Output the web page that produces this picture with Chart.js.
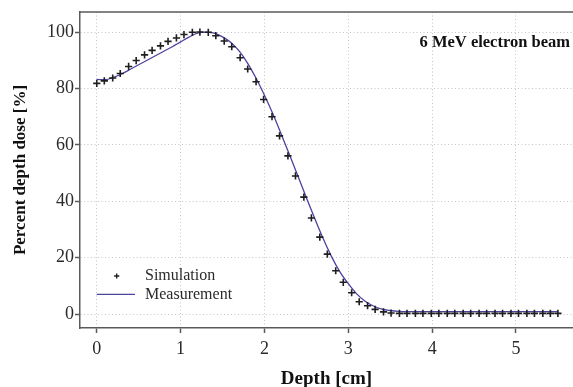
<!DOCTYPE html>
<html><head><meta charset="utf-8">
<script src="https://cdn.jsdelivr.net/npm/chart.js@4"></script>
<style>html,body{margin:0;padding:0;background:#fff;overflow:hidden}canvas{display:block}</style>
</head><body>
<canvas id="c" width="573" height="387" style="width:573px;height:387px"></canvas>
<script>
const simDepth = [0.00, 0.09, 0.19, 0.28, 0.38, 0.47, 0.57, 0.66, 0.76, 0.85, 0.95, 1.04, 1.14,
  1.23, 1.33, 1.42, 1.52, 1.61, 1.71, 1.80, 1.90,
  1.99, 2.09, 2.18, 2.28, 2.37, 2.47, 2.56, 2.66, 2.75, 2.85, 2.94,
  3.04, 3.13, 3.23, 3.32, 3.42, 3.51, 3.61, 3.70, 3.80, 3.89,
  3.99, 4.08, 4.18, 4.27, 4.37, 4.46, 4.56, 4.65, 4.75, 4.84,
  4.94, 5.03, 5.13, 5.22, 5.32, 5.41, 5.50];
const simDose = [81.8, 82.7, 83.7, 85.3, 87.8, 89.9, 91.9, 93.5, 95.1, 96.7, 97.9, 99.1, 99.9,
  100.0, 99.9, 98.7, 96.8, 94.8, 90.9, 86.9, 82.4,
  76.1, 70.0, 63.2, 56.1, 49.0, 41.5, 34.1, 27.3, 21.3, 15.4, 11.3,
  7.6, 4.4, 3.0, 1.7, 0.8, 0.4, 0.3, 0.3, 0.3, 0.3,
  0.3, 0.3, 0.3, 0.3, 0.3, 0.3, 0.3, 0.3, 0.3, 0.3,
  0.3, 0.3, 0.3, 0.3, 0.3, 0.3, 0.3];
const measDepth = [0.0, 0.1, 0.2, 0.3, 0.4, 0.5, 0.6, 0.7, 0.8, 0.9, 1.0, 1.1, 1.2, 1.3, 1.4,
  1.5, 1.6, 1.7, 1.8, 1.9, 2.0, 2.1, 2.2, 2.3, 2.4, 2.5, 2.6, 2.7, 2.8, 2.9,
  3.0, 3.1, 3.2, 3.3, 3.4, 3.5, 3.6, 3.7, 3.8, 3.9, 4.0, 4.1, 4.2, 4.3, 4.4,
  4.5, 4.6, 4.7, 4.8, 4.9, 5.0, 5.1, 5.2, 5.3, 5.4, 5.5];
const measDose = [83.2, 83.1, 83.9, 85.2, 86.8, 88.4, 90.0, 91.6, 93.2, 94.8, 96.5, 98.2, 99.6, 100.0, 99.6,
  98.3, 96.3, 93.2, 88.9, 83.6, 77.6, 71.0, 63.8, 56.4, 48.9, 41.3, 33.9, 26.8, 20.4, 15.0,
  10.8, 7.2, 4.6, 2.9, 1.8, 1.3, 1.0, 0.9, 0.9, 0.9, 0.9, 0.9, 0.9, 0.9, 0.9,
  0.9, 0.9, 0.9, 0.9, 0.9, 0.9, 0.9, 0.9, 0.9, 0.9, 0.9];
const xTicks = [0, 1, 2, 3, 4, 5];
const yTicks = [0, 20, 40, 60, 80, 100];
const seriesNames = ['Simulation', 'Measurement'];
const annotation = '6 MeV electron beam';
const xTitle = 'Depth [cm]';
const yTitle = 'Percent depth dose [%]';

const SERIF = '"Liberation Serif", "Times New Roman", serif';
const AXIS = '#5a5a5a';
const LINE = '#4b43a0';
const MARK = '#1e1e1e';
const TEXT = '#2a2a2a';

const pairs = (xs, ys) => xs.map((x, i) => ({x, y: ys[i]}));

const overlay = {
  id: 'overlay',
  afterDraw(chart) {
    const {ctx, chartArea: a} = chart;
    ctx.save();
    // top frame line
    ctx.strokeStyle = AXIS; ctx.lineWidth = 1.5;
    ctx.beginPath(); ctx.moveTo(a.left, a.top); ctx.lineTo(a.right, a.top); ctx.stroke();
    // annotation
    ctx.font = 'bold 16.5px ' + SERIF; ctx.fillStyle = '#111';
    ctx.textAlign = 'right'; ctx.textBaseline = 'middle';
    ctx.fillText(annotation, a.right - 3, a.top + 31);
    // legend
    const lx = a.left + 36.7, ly1 = a.top + 264, ly2 = a.top + 282.3;
    ctx.strokeStyle = MARK; ctx.lineWidth = 1.4;
    ctx.beginPath();
    ctx.moveTo(lx - 2.6, ly1); ctx.lineTo(lx + 2.6, ly1);
    ctx.moveTo(lx, ly1 - 2.6); ctx.lineTo(lx, ly1 + 2.6);
    ctx.stroke();
    ctx.strokeStyle = LINE; ctx.lineWidth = 1.3;
    ctx.beginPath(); ctx.moveTo(a.left + 16.7, ly2); ctx.lineTo(a.left + 55, ly2); ctx.stroke();
    ctx.font = '16px ' + SERIF; ctx.fillStyle = TEXT; ctx.textAlign = 'left';
    ctx.fillText(seriesNames[0], a.left + 65, ly1);
    ctx.fillText(seriesNames[1], a.left + 65, ly2);
    ctx.restore();
  }
};

new Chart(document.getElementById('c'), {
  type: 'scatter',
  data: {
    datasets: [
      {
        label: seriesNames[1], type: 'line', data: pairs(measDepth, measDose),
        borderColor: LINE, borderWidth: 1.3, pointRadius: 0, fill: false,
        cubicInterpolationMode: 'monotone', order: 2
      },
      {
        label: seriesNames[0], data: pairs(simDepth, simDose),
        pointStyle: 'cross', pointRadius: 3.6, borderColor: MARK, backgroundColor: MARK,
        pointBorderWidth: 1.6, order: 1
      }
    ]
  },
  options: {
    responsive: false, animation: false, devicePixelRatio: 1,
    layout: {autoPadding: false, padding: {top: 12, left: 0, right: 0, bottom: 0}},
    plugins: {legend: {display: false}, tooltip: {enabled: false}},
    scales: {
      x: {
        type: 'linear', min: -0.2, max: 5.68,
        afterFit: s => { s.height = 59; s.paddingLeft = 0; s.paddingRight = 0; },
        afterBuildTicks: s => { s.ticks = xTicks.map(v => ({value: v})); },
        grid: {color: '#c4c4c4', lineWidth: 1, tickLength: 5, tickColor: AXIS, tickWidth: 1.5},
        border: {display: true, color: AXIS, width: 1.5, dash: [1, 2.5]},
        ticks: {color: TEXT, padding: 5, maxRotation: 0, font: {family: SERIF, size: 18}},
        title: {display: true, text: xTitle, color: '#111', font: {family: SERIF, size: 19, weight: 'bold', lineHeight: 1}, padding: {top: 0, bottom: -2}}
      },
      y: {
        type: 'linear', min: -4.9, max: 107.1,
        afterFit: s => { s.width = 80; s.paddingTop = 0; s.paddingBottom = 0; },
        afterBuildTicks: s => { s.ticks = yTicks.map(v => ({value: v})); },
        grid: {color: '#c4c4c4', lineWidth: 1, tickLength: 5, tickColor: AXIS, tickWidth: 1.5},
        border: {display: true, color: AXIS, width: 1.5, dash: [1, 2.5]},
        ticks: {color: TEXT, padding: 1, font: {family: SERIF, size: 18}},
        title: {display: true, text: yTitle, color: '#111', font: {family: SERIF, size: 17, weight: 'bold', lineHeight: 1}, padding: {top: 12, bottom: 0}}
      }
    }
  },
  plugins: [overlay]
});
</script>
</body></html>
